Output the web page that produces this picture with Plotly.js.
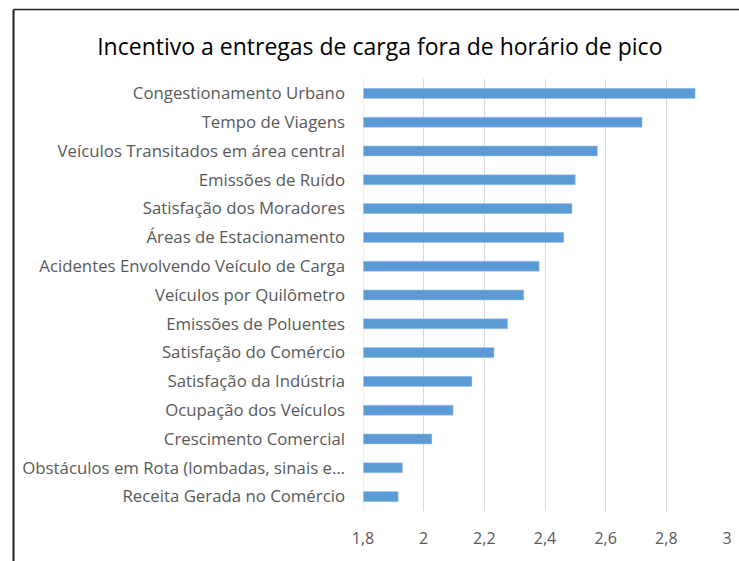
<!DOCTYPE html>
<html>
<head>
<meta charset="utf-8">
<script src="https://cdn.plot.ly/plotly-3.0.1.min.js"></script>
<style>
html,body{margin:0;padding:0;background:#fff;}
#chart{width:739px;height:561px;}
</style>
</head>
<body>
<div id="chart"></div>
<script>
var categories = [
  "Congestionamento Urbano",
  "Tempo de Viagens",
  "Veículos Transitados em área central",
  "Emissões de Ruído",
  "Satisfação dos Moradores",
  "Áreas de Estacionamento",
  "Acidentes Envolvendo Veículo de Carga",
  "Veículos por Quilômetro",
  "Emissões de Poluentes",
  "Satisfação do Comércio",
  "Satisfação da Indústria",
  "Ocupação dos Veículos",
  "Crescimento Comercial",
  "Obstáculos em Rota (lombadas, sinais e…",
  "Receita Gerada no Comércio"
];
var values = [2.895, 2.72, 2.573, 2.50, 2.489, 2.462, 2.381, 2.33, 2.277, 2.232, 2.159, 2.097, 2.027, 1.93, 1.916];
var axisMin = 1.8;
var axisMax = 3;
var tickVals = [1.8, 2, 2.2, 2.4, 2.6, 2.8, 3];
var tickText = ["1,8", "2", "2,2", "2,4", "2,6", "2,8", "3"];
var titleText = "Incentivo a entregas de carga fora de horário de pico";

var font = "'Open Sans', sans-serif";

var trace = {
  type: 'bar',
  orientation: 'h',
  x: values.map(function(v){ return v - axisMin; }),
  base: axisMin,
  y: categories,
  marker: {color: '#5b9bd5', line: {color: '#a9c8ea', width: 0.5}},
  hoverinfo: 'y'
};

var layout = {
  width: 739, height: 561,
  margin: {l: 363, r: 12, t: 79, b: 50, pad: 0},
  paper_bgcolor: '#ffffff',
  plot_bgcolor: '#ffffff',
  showlegend: false,
  bargap: 0.65,
  title: {
    text: titleText,
    font: {family: font, size: 23, color: '#000000'},
    x: 0.514, xref: 'container', xanchor: 'center',
    y: 0.917, yref: 'container', yanchor: 'middle'
  },
  xaxis: {
    range: [axisMin, axisMax],
    tickvals: tickVals,
    ticktext: tickText,
    showgrid: true,
    gridcolor: '#d9d9d9',
    gridwidth: 1,
    zeroline: false,
    showline: false,
    ticks: '',
    ticklabelstandoff: 16,
    tickfont: {family: font, size: 16, color: '#595959'},
    fixedrange: true
  },
  yaxis: {
    type: 'category',
    categoryorder: 'array',
    categoryarray: categories.slice().reverse(),
    autorange: false,
    range: [-0.5, 14.5],
    showgrid: false,
    zeroline: false,
    showline: false,
    ticks: '',
    ticklabelstandoff: 17,
    tickfont: {family: font, size: 16.8, color: '#595959'},
    fixedrange: true
  },
  shapes: [
    {type: 'line', xref: 'paper', yref: 'paper',
     x0: (13.5 - 363) / 364, x1: (13.5 - 363) / 364,
     y0: (511 - 561) / 432 - 0.05, y1: (511 - 9.5) / 432,
     line: {color: '#222222', width: 2}},
    {type: 'line', xref: 'paper', yref: 'paper',
     x0: (13.5 - 363) / 364, x1: 1.1,
     y0: (511 - 9.5) / 432, y1: (511 - 9.5) / 432,
     line: {color: '#222222', width: 1.6}},
    {type: 'line', xref: 'x', yref: 'paper',
     x0: axisMin, x1: axisMin, y0: 0, y1: 1,
     line: {color: '#d9d9d9', width: 1}}
  ]
};

Plotly.newPlot('chart', [trace], layout, {displayModeBar: false, staticPlot: true});
</script>
</body>
</html>
